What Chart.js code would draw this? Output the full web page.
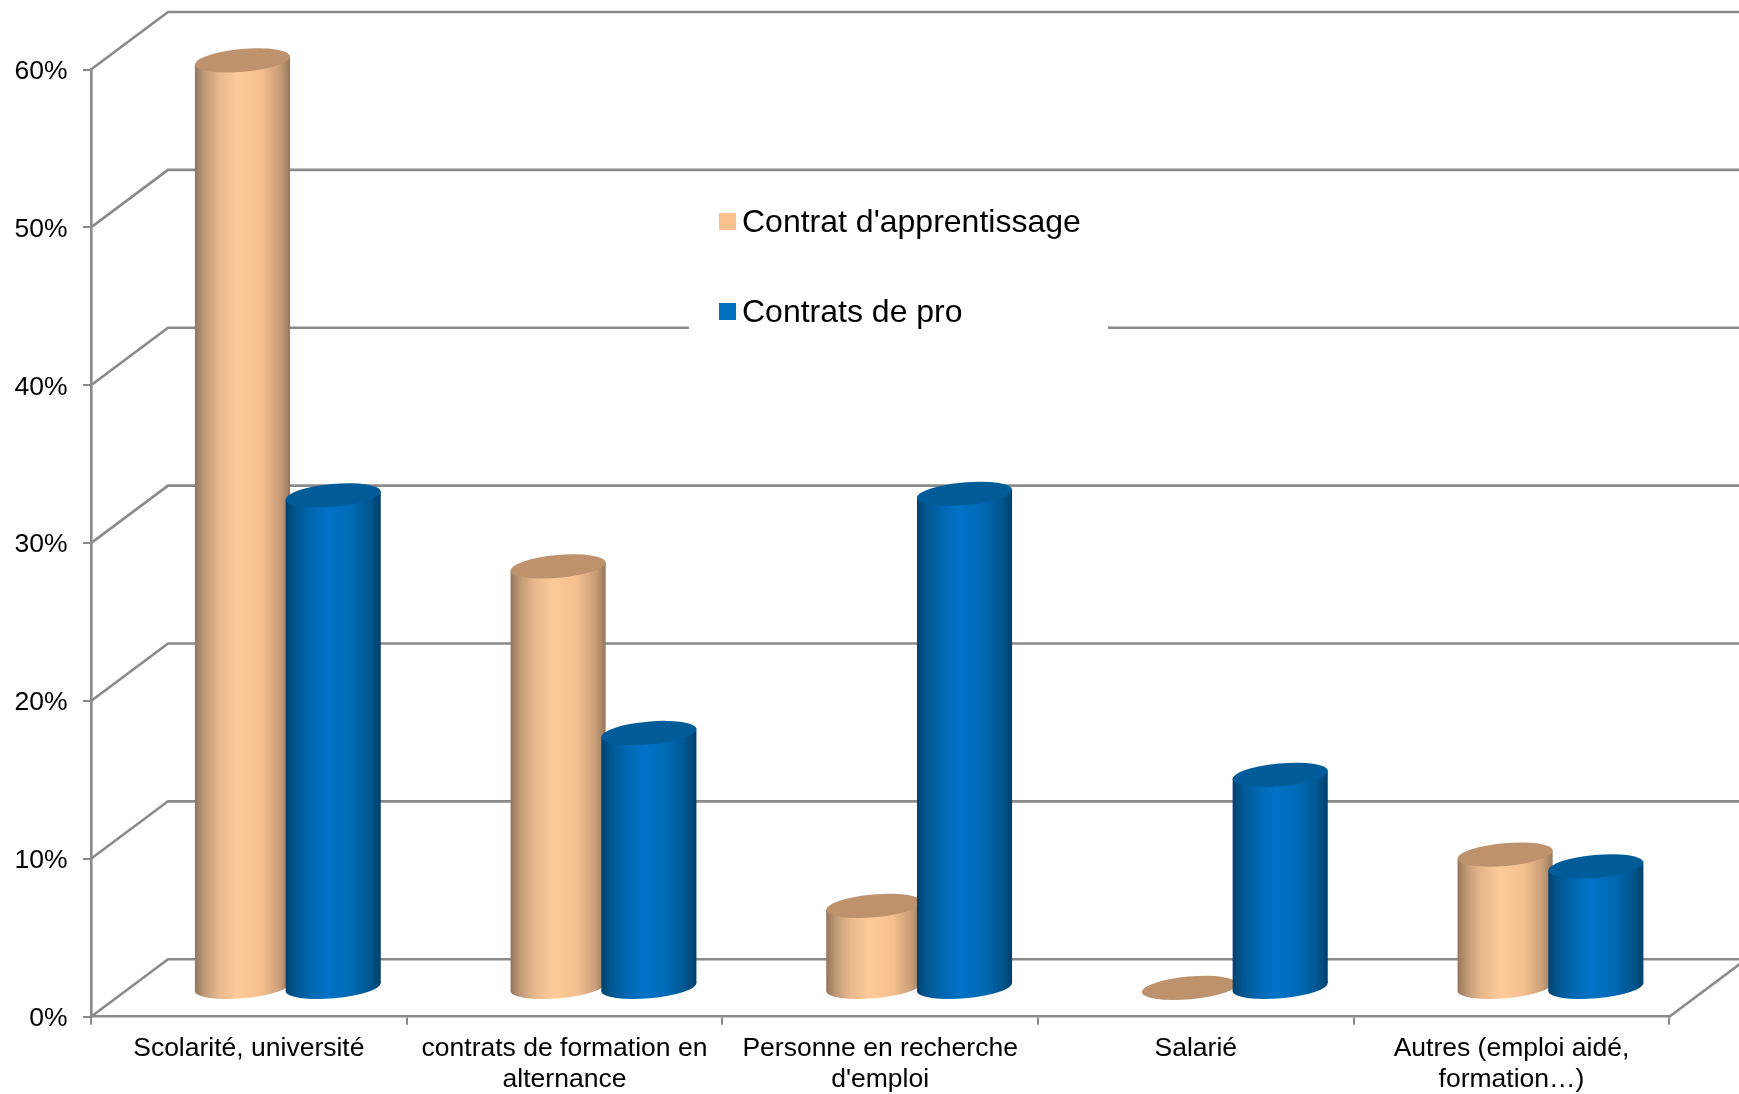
<!DOCTYPE html>
<html>
<head>
<meta charset="utf-8">
<title>Contrats</title>
<script src="https://cdn.jsdelivr.net/npm/chart.js@4/dist/chart.umd.min.js"></script>
<style>
    html, body { margin: 0; padding: 0; background: #fff; overflow: hidden; }
    canvas { display: block; }
</style>
</head>
<body>
<canvas id="contratsChart" width="1739" height="1094"></canvas>
<script>
const categories = [
    'Scolarité, université',
    ['contrats de formation en', 'alternance'],
    ['Personne en recherche', "d'emploi"],
    'Salarié',
    ['Autres (emploi aidé,', 'formation…)']
];
const seriesNames = ["Contrat d'apprentissage", 'Contrats de pro'];
const apprentissage = [58.75, 26.7, 5.2, 0, 8.45];
const contratsPro = [31.2, 16.15, 31.3, 13.5, 7.7];
const yTicks = [0, 10, 20, 30, 40, 50, 60];

const FONT = '"Liberation Sans", Arial, sans-serif';
const LINE = '#8a8a8a';
const DEPTH_X = 77;     // back wall offset
const DEPTH_Y = -57.5;

// horizontal shading of each cylinder
const shadeStops = [0, 0.1, 0.25, 0.45, 0.7, 0.9, 1];
const shades = [
    { stops: ['#967558', '#bf9a78', '#e8b88c', '#fdcb98', '#f5c08e', '#c69c78', '#967558'], cap: '#bd926d' },
    { stops: ['#00426e', '#00568f', '#0066ae', '#0072c8', '#0069b4', '#00548c', '#003f6a'], cap: '#005c99' }
];

const wallPlugin = {
    id: 'wall',
    beforeDatasetsDraw(chart) {
        const { ctx, scales: { x, y }, width } = chart;
        ctx.save();
        ctx.strokeStyle = LINE;
        ctx.lineWidth = 2.6;
        yTicks.forEach(v => {
            const py = y.getPixelForValue(v);
            ctx.beginPath();
            ctx.moveTo(x.left, py);
            ctx.lineTo(x.left + DEPTH_X, py + DEPTH_Y);
            ctx.lineTo(width, py + DEPTH_Y);
            ctx.stroke();
        });
        // floor, right side
        ctx.beginPath();
        ctx.moveTo(x.right, y.bottom);
        ctx.lineTo(x.right + DEPTH_X, y.bottom + DEPTH_Y);
        ctx.stroke();
        ctx.restore();
    }
};

const cylinderPlugin = {
    id: 'cylinders',
    beforeDatasetDraw() {
        return false; // the plugin draws the bars, blue on top of orange
    },
    afterDatasetsDraw(chart) {
        const { ctx } = chart;
        const tilt = -5.07 * Math.PI / 180;
        ctx.save();
        ctx.translate(DEPTH_X / 2 + 0.5, DEPTH_Y / 2);
        chart.data.datasets.forEach((ds, i) => {
            const shade = shades[i];
            chart.getDatasetMeta(i).data.forEach(bar => {
                const half = bar.width * 0.524;
                const a = half * 1.004, b = half * 0.24;
                const rise = half * 0.084;
                const left = bar.x - half, right = bar.x + half;

                const grad = ctx.createLinearGradient(left, 0, right, 0);
                shadeStops.forEach((p, k) => grad.addColorStop(p, shade.stops[k]));

                if (bar.base - bar.y > 0.5) {
                    ctx.fillStyle = grad;
                    ctx.beginPath();
                    ctx.ellipse(bar.x, bar.base, a, b, tilt, 0, Math.PI * 2);
                    ctx.fill();
                    ctx.beginPath();
                    ctx.moveTo(left, bar.y + rise);
                    ctx.lineTo(left, bar.base + rise);
                    ctx.lineTo(right, bar.base - rise);
                    ctx.lineTo(right, bar.y - rise);
                    ctx.closePath();
                    ctx.fill();
                }
                ctx.fillStyle = shade.cap;
                ctx.beginPath();
                ctx.ellipse(bar.x, bar.y, a, b, tilt, 0, Math.PI * 2);
                ctx.fill();
            });
        });
        ctx.restore();
    }
};

const legendPlugin = {
    id: 'boxLegend',
    afterDatasetsDraw(chart) {
        const { ctx } = chart;
        ctx.save();
        ctx.fillStyle = '#fff';
        ctx.fillRect(689, 178, 419, 170);
        ctx.font = '32px ' + FONT;
        ctx.textBaseline = 'middle';
        chart.data.datasets.forEach((ds, i) => {
            const cy = 221.5 + i * 90;
            ctx.fillStyle = ds.backgroundColor;
            ctx.fillRect(719, cy - 8.5, 17, 17);
            ctx.fillStyle = '#000';
            ctx.fillText(ds.label, 742, cy + 2);
        });
        ctx.restore();
    }
};

document.addEventListener('DOMContentLoaded', function () {
    const config = {
        type: 'bar',
        data: {
            labels: categories,
            datasets: [
                { label: seriesNames[0], data: apprentissage, backgroundColor: '#fbc08e' },
                { label: seriesNames[1], data: contratsPro, backgroundColor: '#0070c0' }
            ]
        },
        options: {
            responsive: false,
            animation: false,
            events: [],
            layout: { padding: { top: 69.5, right: 69.7, left: 0, bottom: 0 } },
            datasets: { bar: { barPercentage: 1, categoryPercentage: 0.575 } },
            plugins: {
                legend: { display: false },
                tooltip: { enabled: false }
            },
            scales: {
                x: {
                    afterFit: scale => { scale.height = 77.3; },
                    border: { color: LINE, width: 2.6 },
                    grid: { color: LINE, lineWidth: 2, drawOnChartArea: false, tickLength: 8 },
                    ticks: {
                        color: '#000',
                        padding: 8,
                        maxRotation: 0,
                        autoSkip: false,
                        font: { family: FONT, size: 26.5, lineHeight: 1.17 }
                    }
                },
                y: {
                    min: 0,
                    max: 60,
                    afterFit: scale => { scale.width = 91; },
                    border: { color: LINE, width: 2.6 },
                    grid: { color: LINE, lineWidth: 2, drawOnChartArea: false, tickLength: 8 },
                    afterBuildTicks: scale => { scale.ticks = yTicks.map(v => ({ value: v })); },
                    ticks: {
                        color: '#000',
                        padding: 15.5,
                        labelOffset: 2,
                        callback: v => v + '%',
                        font: { family: FONT, size: 26.5 }
                    }
                }
            }
        },
        plugins: [wallPlugin, cylinderPlugin, legendPlugin]
    };

    new Chart(document.getElementById('contratsChart'), config);
});
</script>
</body>
</html>
